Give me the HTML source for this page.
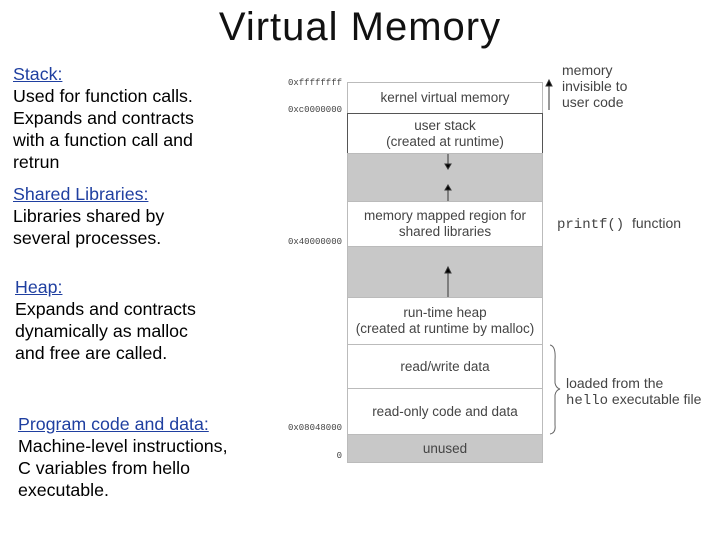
<!DOCTYPE html>
<html><head><style>
body{margin:0;width:720px;height:540px;background:#fff;position:relative;overflow:hidden;font-family:"Liberation Sans",sans-serif}
.t{position:absolute;font-size:17.8px;line-height:22px;color:#000;white-space:nowrap}
.t u{color:#1f3fa0}
.b{position:absolute;left:347px;width:196px;box-sizing:border-box;border:1px solid #bbb;font-size:13.5px;color:#444;text-align:center;display:flex;align-items:center;justify-content:center;line-height:16px;white-space:nowrap}
.g{background:#c8c8c8}
.a{position:absolute;font-family:"Liberation Mono",monospace;font-size:9px;color:#444;text-align:right;width:70px;left:272px}
.r{position:absolute;font-size:14px;color:#444;line-height:16px;white-space:nowrap}
</style></head><body>
<div style="position:absolute;left:0;width:720px;top:4px;text-align:center;font-size:40px;letter-spacing:1px;line-height:46px;color:#111">Virtual Memory</div>
<div class="t" style="left:13px;top:63px"><u>Stack:</u><br>Used for function calls.<br>Expands and contracts<br>with a function call and<br>retrun</div>
<div class="t" style="left:13px;top:183px"><u>Shared Libraries:</u><br>Libraries shared by<br>several processes.</div>
<div class="t" style="left:15px;top:276px"><u>Heap:</u><br>Expands and contracts<br>dynamically as malloc<br>and free are called.</div>
<div class="t" style="left:18px;top:413px"><u>Program code and data:</u><br>Machine-level instructions,<br>C variables from hello<br>executable.</div>

<div class="b" style="top:82px;height:32px">kernel virtual memory</div>
<div class="b" style="top:113px;height:41px;border-color:#555">user stack<br>(created at runtime)</div>
<div class="b g" style="top:153px;height:49px"></div>
<div class="b" style="top:201px;height:46px">memory mapped region for<br>shared libraries</div>
<div class="b g" style="top:246px;height:52px"></div>
<div class="b" style="top:297px;height:48px">run-time heap<br>(created at runtime by malloc)</div>
<div class="b" style="top:344px;height:45px">read/write data</div>
<div class="b" style="top:388px;height:47px;border-bottom-color:#555">read-only code and data</div>
<div class="b g" style="top:434px;height:29px">unused</div>

<svg style="position:absolute;left:0;top:0" width="720" height="540">
<g stroke="#333" fill="#000">
<line x1="448" y1="154" x2="448" y2="164"/><polygon points="445,164 451,164 448,169" />
<line x1="448" y1="190" x2="448" y2="201"/><polygon points="445,190 451,190 448,185"/>
<line x1="448" y1="270" x2="448" y2="297"/><polygon points="445,273 451,273 448,267"/>
<line x1="549" y1="110" x2="549" y2="84"/><polygon points="546,86 552,86 549,80"/>
</g>
<path d="M550,345 Q556,346 555,360 L555,383 Q556,388 560,389 Q556,390 555,395 L555,425 Q556,433 550,434" fill="none" stroke="#666"/>
</svg>

<div class="a" style="top:78px">0xffffffff</div>
<div class="a" style="top:105px">0xc0000000</div>
<div class="a" style="top:237px">0x40000000</div>
<div class="a" style="top:423px">0x08048000</div>
<div class="a" style="top:451px">0</div>

<div class="r" style="left:562px;top:62px">memory<br>invisible to<br>user code</div>
<div class="r" style="left:557px;top:215px"><span style="font-family:'Liberation Mono',monospace">printf()</span> &nbsp;function</div>
<div class="r" style="left:566px;top:375px">loaded from the<br><span style="font-family:'Liberation Mono',monospace">hello</span> executable file</div>
</body></html>
